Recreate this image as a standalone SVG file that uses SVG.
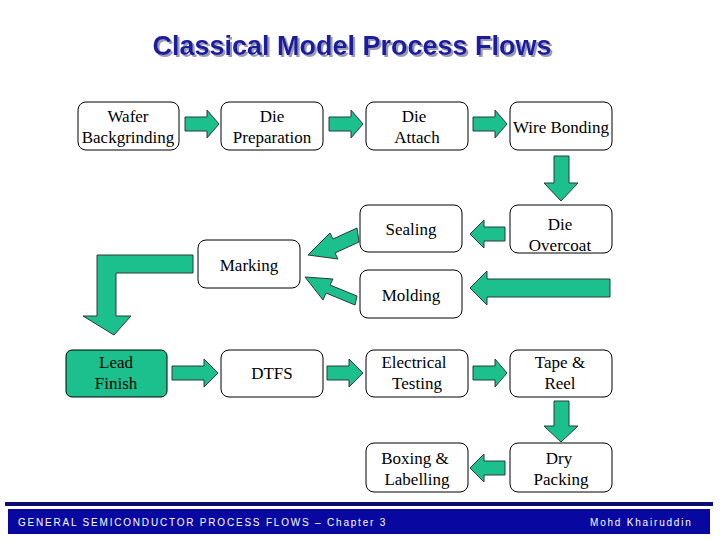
<svg xmlns="http://www.w3.org/2000/svg" width="720" height="540" viewBox="0 0 720 540">
<defs><filter id="sh" x="-5%" y="-20%" width="110%" height="150%"><feDropShadow dx="2" dy="2" stdDeviation="0.5" flood-color="#9a9ab0"/></filter></defs>
<style>
.b{fill:#fff;stroke:#000;stroke-width:1}
.t{font-family:"Liberation Serif","Times New Roman","DejaVu Serif",serif;font-size:17px;text-anchor:middle;fill:#000}
.a{fill:#1CC08C;stroke:#2a3a3a;stroke-width:1}
.title{font-family:"Liberation Sans",Arial,sans-serif;font-size:27px;font-weight:bold;text-anchor:middle}
.f{font-family:"Liberation Sans",Arial,sans-serif;font-size:10px;fill:#fff;letter-spacing:1.8px}
</style>
<rect width="720" height="540" fill="#fff"/>
<text class="title" x="352" y="55" fill="#1a1aa0" filter="url(#sh)">Classical Model Process Flows</text>
<g id="n1"><rect class="b" x="78" y="102" width="101" height="48" rx="8"/><text class="t" x="128" y="122">Wafer</text><text class="t" x="128" y="143">Backgrinding</text></g>
<g id="n2"><rect class="b" x="221" y="102" width="102" height="48" rx="8"/><text class="t" x="272" y="122">Die</text><text class="t" x="272" y="143">Preparation</text></g>
<g id="n3"><rect class="b" x="366" y="102" width="102" height="48" rx="8"/><text class="t" x="414" y="122">Die</text><text class="t" x="417" y="143">Attach</text></g>
<g id="n4"><rect class="b" x="510" y="102" width="102" height="48" rx="8"/><text class="t" x="561" y="133">Wire Bonding</text></g>
<g id="n5"><rect class="b" x="360" y="205" width="102" height="47" rx="8"/><text class="t" x="411" y="235">Sealing</text></g>
<g id="n6"><rect class="b" x="510" y="205" width="102" height="48" rx="8"/><text class="t" x="560" y="230">Die</text><text class="t" x="560" y="251">Overcoat</text></g>
<g id="n7"><rect class="b" x="198" y="240" width="102" height="48" rx="8"/><text class="t" x="249" y="271">Marking</text></g>
<g id="n8"><rect class="b" x="360" y="270" width="102" height="48" rx="8"/><text class="t" x="411" y="301">Molding</text></g>
<g id="n9"><rect x="66" y="350" width="101" height="47" rx="6" fill="#1CC08C" stroke="#000"/><text class="t" x="116" y="368">Lead</text><text class="t" x="116" y="389">Finish</text></g>
<g id="n10"><rect class="b" x="221" y="350" width="102" height="47" rx="8"/><text class="t" x="272" y="379">DTFS</text></g>
<g id="n11"><rect class="b" x="366" y="350" width="102" height="47" rx="8"/><text class="t" x="414" y="368">Electrical</text><text class="t" x="417" y="389">Testing</text></g>
<g id="n12"><rect class="b" x="510" y="350" width="102" height="47" rx="8"/><text class="t" x="560" y="368">Tape &amp;</text><text class="t" x="560" y="389">Reel</text></g>
<g id="n13"><rect class="b" x="366" y="443" width="102" height="49" rx="8"/><text class="t" x="415" y="464">Boxing &amp;</text><text class="t" x="417" y="485">Labelling</text></g>
<g id="n14"><rect class="b" x="510" y="443" width="102" height="49" rx="8"/><text class="t" x="559" y="464">Dry</text><text class="t" x="561" y="485">Packing</text></g>
<g id="connectors">
<polygon class="a" points="185,117 207,117 207,110 219,124 207,138 207,131 185,131"/>
<polygon class="a" points="329,117 351,117 351,110 363,124 351,138 351,131 329,131"/>
<polygon class="a" points="473,117 495,117 495,110 507,124 495,138 495,131 473,131"/>
<polygon class="a" points="554,156 569,156 569,183 578,183 561,201 544,183 554,183"/>
<polygon class="a" points="505,227 484,227 484,220 470,234 484,248 484,241 505,241"/>
<polygon class="a" points="610,279 487,279 487,271 470,288 487,305 487,297 610,297"/>
<polygon class="a" points="357,228 333,239 330,233 308,255 338,259 335,253 359,242"/>
<polygon class="a" points="357,296 330,285 333,279 305,277 323,300 326,293 355,305"/>
<polygon class="a" points="193,255 97,255 97,316 83,316 114,335 131,316 116,316 116,273 193,273"/>
<polygon class="a" points="172,366 204,366 204,359 218,373 204,387 204,380 172,380"/>
<polygon class="a" points="327,366 349,366 349,359 363,373 349,387 349,380 327,380"/>
<polygon class="a" points="473,366 495,366 495,359 507,373 495,387 495,380 473,380"/>
<polygon class="a" points="554,401 569,401 569,426 578,426 561,442 544,426 554,426"/>
<polygon class="a" points="505,461 484,461 484,454 470,468 484,482 484,475 505,475"/>
</g>
<rect x="5" y="502" width="708" height="4" fill="#0c0c70"/>
<rect x="8" y="509" width="702" height="25" fill="#0808a0"/>
<text class="f" x="18" y="526">GENERAL SEMICONDUCTOR PROCESS FLOWS – Chapter 3</text>
<text class="f" x="590" y="526">Mohd Khairuddin</text>
</svg>
